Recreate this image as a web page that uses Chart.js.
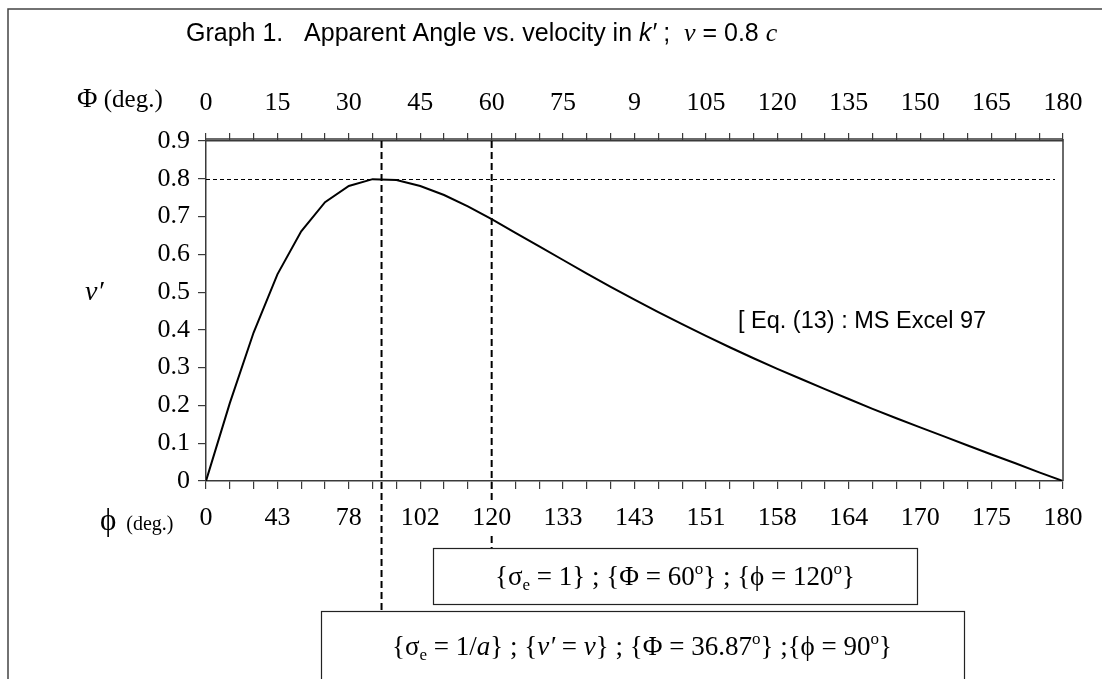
<!DOCTYPE html>
<html>
<head>
<meta charset="utf-8">
<script src="https://cdn.jsdelivr.net/npm/chart.js@4"></script>
<style>
  body { margin: 0; background: #fff; }
  canvas { display: block; }
</style>
</head>
<body>
<canvas id="chart" width="1102" height="679"></canvas>
<script>
// apparent angle PHI (deg) in k, one point every 5 degrees
const apparentAngle = [0, 5, 10, 15, 20, 25, 30, 35, 40, 45, 50, 55, 60, 65, 70, 75, 80, 85, 90,
  95, 100, 105, 110, 115, 120, 125, 130, 135, 140, 145, 150, 155, 160, 165, 170, 175, 180];
// v'
const vPrime = [0, 0.206, 0.393, 0.547, 0.661, 0.738, 0.781, 0.799, 0.797, 0.781, 0.757, 0.727, 0.693,
  0.657, 0.621, 0.585, 0.549, 0.514, 0.480, 0.447, 0.415, 0.384, 0.354, 0.325, 0.297, 0.270,
  0.243, 0.217, 0.191, 0.166, 0.142, 0.118, 0.094, 0.070, 0.047, 0.023, 0];

// axis labels (every 15 deg of PHI)
const topLabels = ["0", "15", "30", "45", "60", "75", "9", "105", "120", "135", "150", "165", "180"];
const bottomLabels = ["0", "43", "78", "102", "120", "133", "143", "151", "158", "164", "170", "175", "180"];

// reference markers
const markerAngles = [36.87, 60];
const markerSpeed = 0.8;

const SERIF = "'Liberation Serif', 'Times New Roman', serif";
const SANS = "'Liberation Sans', Arial, sans-serif";
const AXIS = "#3a3a3a";

function drawRuns(ctx, runs, x, y) {
  // runs: [text, font, dy]
  let cx = x;
  runs.forEach(([t, f, dy]) => {
    ctx.font = f;
    ctx.fillText(t, cx, y + (dy || 0));
    cx += ctx.measureText(t).width;
  });
  return cx;
}
function runsWidth(ctx, runs) {
  let w = 0;
  runs.forEach(([t, f]) => { ctx.font = f; w += ctx.measureText(t).width; });
  return w;
}

const decorations = {
  id: "decorations",
  afterDraw(chart) {
    const ctx = chart.ctx;
    const a = chart.chartArea;
    const x = chart.scales.x;
    const y = chart.scales.y;
    ctx.save();

    // outer frame
    ctx.strokeStyle = "#444";
    ctx.lineWidth = 1.5;
    ctx.beginPath();
    ctx.moveTo(8, 679);
    ctx.lineTo(8, 9);
    ctx.lineTo(1102, 9);
    ctx.stroke();

    // plot area right border and double top line
    ctx.strokeStyle = AXIS;
    ctx.lineWidth = 1.5;
    ctx.beginPath();
    ctx.moveTo(a.right, a.top - 2);
    ctx.lineTo(a.right, a.bottom);
    ctx.moveTo(a.left, a.top - 2);
    ctx.lineTo(a.right, a.top - 2);
    ctx.stroke();

    // dashed reference lines
    ctx.strokeStyle = "#000";
    ctx.lineWidth = 1;
    ctx.setLineDash([4, 3]);
    const yv = Math.round(y.getPixelForValue(markerSpeed)) + 0.5;
    ctx.beginPath();
    ctx.moveTo(a.left, yv);
    ctx.lineTo(a.right - 8, yv);
    ctx.stroke();

    ctx.lineWidth = 2;
    ctx.setLineDash([7, 4]);
    const x1 = x.getPixelForValue(markerAngles[0]);
    const x2 = x.getPixelForValue(markerAngles[1]);
    ctx.beginPath();
    ctx.moveTo(x1, a.top);
    ctx.lineTo(x1, 611);
    ctx.moveTo(x2, a.top);
    ctx.lineTo(x2, 502);
    ctx.moveTo(x2, 536);
    ctx.lineTo(x2, 548);
    ctx.stroke();
    ctx.setLineDash([]);

    ctx.fillStyle = "#000";
    ctx.textBaseline = "alphabetic";

    // title
    const tf = "25px " + SANS;
    drawRuns(ctx, [
      ["Graph 1.   Apparent Angle vs. velocity in ", tf],
      ["k\u2032", "italic " + tf],
      [" ;  ", tf],
      ["v", "italic 26px " + SERIF],
      [" = 0.8 ", tf],
      ["c", "italic 26px " + SERIF]
    ], 186, 41);

    // axis names
    drawRuns(ctx, [["\u03A6", "28px " + SERIF], [" (deg.)", "25px " + SERIF]], 77, 107);
    drawRuns(ctx, [["\u03D5", "31px " + SERIF], ["  (deg.)", "20px " + SERIF]], 100, 530);
    drawRuns(ctx, [["v\u2032", "italic 28px " + SERIF]], 85, 300);

    // note
    ctx.font = "23.5px " + SANS;
    ctx.fillText("[ Eq. (13) : MS Excel 97", 738, 328);

    // boxes
    ctx.strokeStyle = "#222";
    ctx.lineWidth = 1.2;
    ctx.fillStyle = "#fff";
    ctx.fillRect(433, 548, 484, 56);
    ctx.strokeRect(433.5, 548.5, 484, 56);
    ctx.fillRect(321, 611, 643, 80);
    ctx.strokeRect(321.5, 611.5, 643, 80);

    ctx.fillStyle = "#000";
    const bf = "27px " + SERIF;
    const sf = "17px " + SERIF;
    const box1 = [
      ["{\u03C3", bf], ["e", sf, 5], [" = 1} ; {\u03A6 = 60", bf], ["o", sf, -11],
      ["} ; {\u03D5 = 120", bf], ["o", sf, -11], ["}", bf]
    ];
    drawRuns(ctx, box1, 675 - runsWidth(ctx, box1) / 2, 585);
    const box2 = [
      ["{\u03C3", bf], ["e", sf, 5], [" = 1/", bf], ["a", "italic " + bf], ["} ; {", bf],
      ["v\u2032", "italic " + bf], [" = ", bf], ["v", "italic " + bf],
      ["} ; {\u03A6 = 36.87", bf], ["o", sf, -11], ["} ;{\u03D5 = 90", bf], ["o", sf, -11], ["}", bf]
    ];
    drawRuns(ctx, box2, 642 - runsWidth(ctx, box2) / 2, 655);

    ctx.restore();
  }
};

const angleTick = (labels) => (value) => (value % 15 === 0 ? labels[value / 15] : "");

const axisGrid = { drawOnChartArea: false, drawTicks: true, tickLength: 8, color: AXIS, lineWidth: 1.2 };
const axisBorder = { display: true, color: AXIS, width: 1.5 };
const tickFont = { family: SERIF, size: 26 };

new Chart(document.getElementById("chart"), {
  type: "line",
  data: {
    datasets: [{
      data: apparentAngle.map((p, i) => ({ x: p, y: vPrime[i] })),
      borderColor: "#000",
      borderWidth: 2,
      pointRadius: 0,
      tension: 0,
      fill: false
    }]
  },
  options: {
    responsive: false,
    animation: false,
    layout: { padding: { left: 0, right: 39, top: 0, bottom: 0 } },
    plugins: { legend: { display: false }, tooltip: { enabled: false }, title: { display: false } },
    scales: {
      x: {
        type: "linear", position: "bottom", min: 0, max: 180,
        grid: axisGrid, border: axisBorder,
        ticks: {
          stepSize: 5, autoSkip: false, maxRotation: 0, padding: 14,
          color: "#000", font: tickFont,
          callback: angleTick(bottomLabels)
        },
        afterFit: (s) => { s.height = 198; }
      },
      x2: {
        type: "linear", position: "top", min: 0, max: 180,
        grid: axisGrid, border: axisBorder,
        ticks: {
          stepSize: 5, autoSkip: false, maxRotation: 0, padding: 14,
          color: "#000", font: tickFont,
          callback: angleTick(topLabels)
        },
        afterFit: (s) => { s.height = 141; }
      },
      y: {
        min: 0, max: 0.9,
        grid: axisGrid, border: axisBorder,
        ticks: {
          stepSize: 0.1, padding: 8, color: "#000",
          font: tickFont,
          callback: (v) => (v === 0 ? "0" : v.toFixed(1))
        },
        afterFit: (s) => { s.width = 206; }
      }
    }
  },
  plugins: [decorations]
});
</script>
</body>
</html>
